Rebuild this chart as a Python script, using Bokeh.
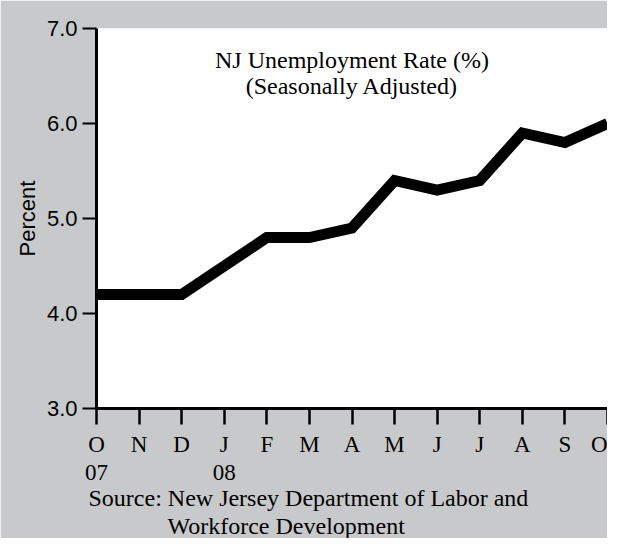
from bokeh.plotting import figure
from bokeh.models import (FixedTicker, LinearAxis, Label, Range1d, Title)
from bokeh.embed import file_html
from bokeh.resources import INLINE

# ---- data ----
months = ["O", "N", "D", "J", "F", "M", "A", "M", "J", "J", "A", "S", "O"]
years = {0: "07", 3: "08"}
rate = [4.2, 4.2, 4.2, 4.5, 4.8, 4.8, 4.9, 5.4, 5.3, 5.4, 5.9, 5.8, 6.0]
y_ticks = [3.0, 4.0, 5.0, 6.0, 7.0]
y_labels = ["3.0", "4.0", "5.0", "6.0", "7.0"]
title_lines = ["NJ Unemployment Rate (%)", "(Seasonally Adjusted)"]
source_lines = ["Source: New Jersey Department of Labor and", "Workforce Development"]

x = list(range(len(months)))

BG = "#c8c9cb"
SERIF = "Liberation Serif"
SANS = "Liberation Sans"

p = figure(width=607, height=538, output_backend="svg", toolbar_location=None,
           x_range=Range1d(0, len(months) - 1), y_range=Range1d(y_ticks[0], y_ticks[-1]),
           min_border_left=96, min_border_right=0, min_border_top=28, min_border_bottom=129,
           x_axis_type=None, y_axis_type=None)
p.background_fill_color = "white"
p.border_fill_color = BG
p.outline_line_color = None

# y axis
yax = LinearAxis(ticker=FixedTicker(ticks=y_ticks),
                 major_label_overrides={t: l for t, l in zip(y_ticks, y_labels)})
yax.axis_line_width = 3
yax.axis_line_color = "black"
yax.major_tick_line_width = 2
yax.major_tick_line_color = "black"
yax.major_tick_out = 14
yax.major_tick_in = 0
yax.minor_tick_line_color = None
yax.major_label_text_font = SANS
yax.major_label_text_font_size = "22px"
yax.major_label_text_color = "black"
yax.major_label_standoff = 5
yax.axis_label = "Percent"
yax.axis_label_text_font = SANS
yax.axis_label_text_font_size = "22px"
yax.axis_label_text_font_style = "normal"
yax.axis_label_text_color = "black"
yax.axis_label_standoff = 4
p.add_layout(yax, "left")

# x axis (months)
xax = LinearAxis(ticker=FixedTicker(ticks=x),
                 major_label_overrides={i: m for i, m in zip(x, months)})
xax.axis_line_width = 3
xax.axis_line_color = "black"
xax.major_tick_line_width = 2.5
xax.major_tick_line_color = "black"
xax.major_tick_out = 16
xax.major_tick_in = 0
xax.minor_tick_line_color = None
xax.major_label_text_font = SERIF
xax.major_label_text_font_size = "23px"
xax.major_label_text_font_style = "normal"
xax.major_label_text_color = "black"
xax.major_label_standoff = 7
p.add_layout(xax, "below")

# x axis (years)
yrax = LinearAxis(ticker=FixedTicker(ticks=list(years.keys())),
                  major_label_overrides=years)
yrax.axis_line_color = None
yrax.major_tick_line_color = None
yrax.major_tick_out = 0
yrax.major_tick_in = 0
yrax.minor_tick_line_color = None
yrax.major_label_text_font = SERIF
yrax.major_label_text_font_size = "23px"
yrax.major_label_text_font_style = "normal"
yrax.major_label_text_color = "black"
yrax.major_label_standoff = 5
p.add_layout(yrax, "below")

# source lines below
for txt, off in zip(source_lines, [-8, 71]):
    p.add_layout(Title(text=txt, align="left", offset=off, standoff=0,
                       text_font=SERIF, text_font_size="24px",
                       text_font_style="normal", text_color="black"), "below")

# grid
p.ygrid.ticker = FixedTicker(ticks=y_ticks[1:])
p.ygrid.grid_line_color = "black"
p.ygrid.grid_line_width = 2
p.xgrid.grid_line_color = None

# data line
p.line(x, rate, line_color="black", line_width=11, line_join="miter", line_cap="butt")

# title inside plot
mid = (len(months) - 1) / 2
for txt, yy in zip(title_lines, [6.67, 6.40]):
    p.add_layout(Label(x=mid, y=yy, text=txt, text_align="center", text_baseline="alphabetic",
                       text_font=SERIF, text_font_size="24px", text_color="black"))

open("out.html", "w").write(file_html(p, INLINE))
